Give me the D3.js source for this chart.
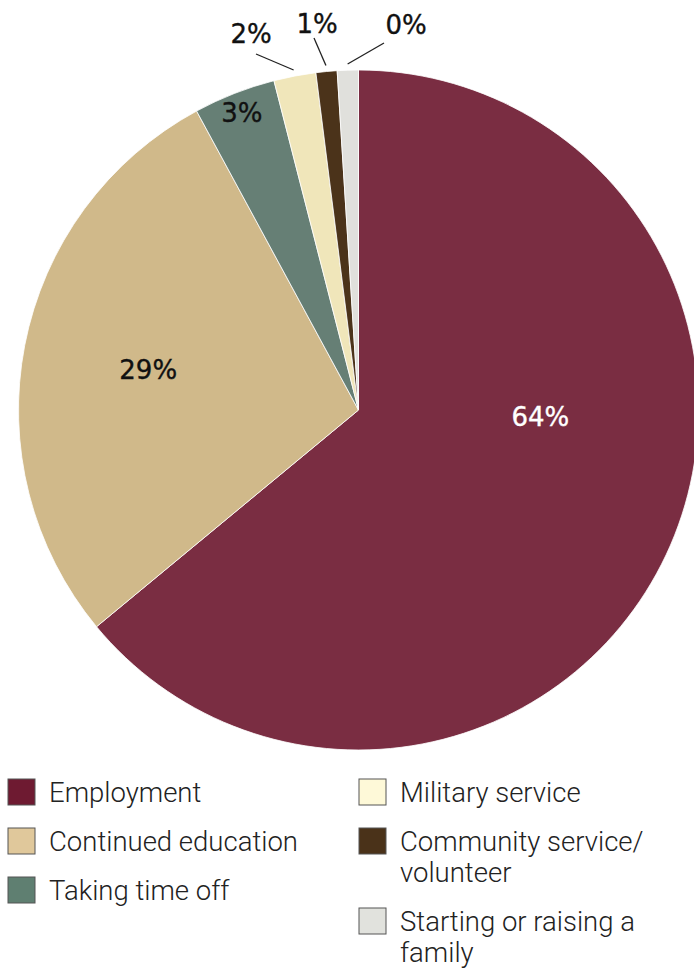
<!DOCTYPE html>
<html>
<head>
<meta charset="utf-8">
<script src="https://cdn.jsdelivr.net/npm/d3@7"></script>
<style>
  body { margin: 0; background: #fff; }
  svg { display: block; }
  .legend text { font-family: Roboto, sans-serif; font-weight: 300; font-size: 27.5px; fill: #222; }
  .pct { font-family: "DejaVu Sans", sans-serif; font-size: 26px; stroke-width: 0.35px; }
</style>
</head>
<body>
<svg id="chart" width="694" height="971"></svg>
<script>
'use strict';

// categories and shares
var categories = ['Employment', 'Continued education', 'Taking time off',
                  'Military service', 'Community service/volunteer', 'Starting or raising a family']
,   shares = [64.0, 28.1, 3.9, 2.0, 1.0, 1.0]
,   pctLabels = ['64%', '29%', '3%', '2%', '1%', '0%']
,   colors = ['#7a2d42', '#d0b98a', '#667f75', '#f0e6ba', '#4b331a', '#e0e0dc']
,   legendColors = ['#6e1a31', '#e0c89b', '#5f7f71', '#fef9d8', '#4a3219', '#e1e2dd']
,   legendLines = [['Employment'], ['Continued education'], ['Taking time off'],
                   ['Military service'], ['Community service/', 'volunteer'], ['Starting or raising a', 'family']]

// label placement: inside labels at [angle deg, radius fraction], outside ones get a leader
var labelLayout = [
  { inside: true, angle: 92, rf: 0.535, fill: '#fff' }
, { inside: true, rf: 0.63, fill: '#111' }
, { inside: true, rf: 0.94, fill: '#111' }
, { inside: false, tx: 251, ty: 43, lx: 256, ly: 54 }
, { inside: false, tx: 317, ty: 33, lx: 314, ly: 38 }
, { inside: false, tx: 406, ty: 34, lx: 384, ly: 43 }
]

var cx = 358.5, cy = 410, radius = 340

var svg = d3.select('#chart')

var pie = d3.pie().sort(null).value((d) => d)
,   arcs = pie(shares)
,   arc = d3.arc().innerRadius(0).outerRadius(radius)

var pieG = svg.append('g')
  .attr('class', 'pie')
  .attr('transform', 'translate(' + cx + ',' + cy + ')')

pieG.selectAll('path')
  .data(arcs)
  .enter().append('path')
  .attr('d', arc)
  .attr('fill', (d, i) => colors[i])
  .attr('stroke', '#fff')
  .attr('stroke-width', 0.8)

function polar(angleDeg, r) {
  var a = angleDeg * Math.PI / 180
  return [Math.sin(a) * r, -Math.cos(a) * r]
}

var labelsG = svg.append('g').attr('class', 'labels')

arcs.forEach((d, i) => {
  var lay = labelLayout[i]
  ,   midDeg = (d.startAngle + d.endAngle) / 2 * 180 / Math.PI

  if (lay.inside) {
    var p = polar(lay.angle !== undefined ? lay.angle : midDeg, lay.rf * radius)
    labelsG.append('text')
      .attr('class', 'pct')
      .attr('x', cx + p[0])
      .attr('y', cy + p[1])
      .attr('dy', '0.36em')
      .attr('text-anchor', 'middle')
      .attr('fill', lay.fill)
      .attr('stroke', lay.fill)
      .text(pctLabels[i])
  } else {
    var edge = polar(midDeg, radius * 1.018)
    labelsG.append('line')
      .attr('x1', cx + edge[0])
      .attr('y1', cy + edge[1])
      .attr('x2', lay.lx)
      .attr('y2', lay.ly)
      .attr('stroke', '#222')
      .attr('stroke-width', 1.3)
    labelsG.append('text')
      .attr('class', 'pct')
      .attr('x', lay.tx)
      .attr('y', lay.ty)
      .attr('text-anchor', 'middle')
      .attr('fill', '#111')
      .attr('stroke', '#111')
      .text(pctLabels[i])
  }
})

// legend: two columns, left one holds the first three categories
var legend = svg.append('g').attr('class', 'legend')
,   colX = [8, 359]
,   rowY = [[779, 828, 877], [779, 828, 908]]

categories.forEach((c, i) => {
  var col = i < 3 ? 0 : 1
  ,   row = i % 3
  ,   item = legend.append('g')
        .attr('transform', 'translate(' + colX[col] + ',' + rowY[col][row] + ')')

  item.append('rect')
    .attr('width', 27)
    .attr('height', 26)
    .attr('fill', legendColors[i])
    .attr('stroke', '#555')
    .attr('stroke-width', 1)

  var t = item.append('text')
    .attr('x', 41)
    .attr('y', 23)
  legendLines[i].forEach((line, j) => {
    t.append('tspan')
      .attr('x', 41)
      .attr('dy', j === 0 ? 0 : 31)
      .text(line)
  })
})
</script>
</body>
</html>
